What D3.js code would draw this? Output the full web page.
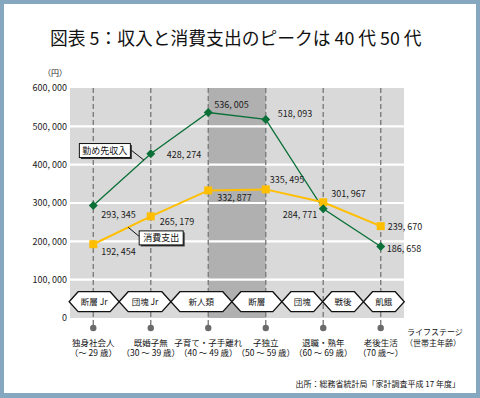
<!DOCTYPE html>
<html><head><meta charset="utf-8">
<script src="https://cdn.jsdelivr.net/npm/d3@7"></script>
<style>
html,body{margin:0;padding:0;background:#85a8c0;}
svg{display:block;font-family:"Noto Sans CJK JP","Noto Sans",sans-serif;}
</style></head>
<body>
<svg id="c" width="480" height="398"></svg>
<script>
// ---- data ----
const stages = ["独身社会人","既婚子無","子育て・子手離れ","子独立","退職・熟年","老後生活"];
const ages = ["（～ 29 歳）","（30 ～ 39 歳）","（40 ～ 49 歳）","（50 ～ 59 歳）","（60 ～ 69 歳）","（70 歳～）"];
const income = [293345, 428274, 536005, 518093, 284771, 186658];
const spending = [192454, 265179, 332877, 335495, 301967, 239670];
const yTicks = [0, 100000, 200000, 300000, 400000, 500000, 600000];
const generations = ["断層 Jr","団塊 Jr","新人類","断層","団塊","戦後","飢餓"];
// generation span boundaries in life-stage index units
const genBounds = [-0.42, 0.45, 1.35, 2.41, 3.28, 3.99, 4.70, 5.41];
const peakStages = [2, 3];

// ---- label layout (style) ----
const incomeOff = [[8,12,"start"],[16,4,"start"],[6,-5,"start"],[12,-2,"start"],[-6,9,"end"],[6,6,"start"]];
const spendOff = [[8,11,"start"],[9,9,"start"],[9,11,"start"],[4,-6,"start"],[8,-5,"start"],[7,4,"start"]];

const svg = d3.select("#c");
svg.append("rect").attr("x",4).attr("y",4).attr("width",472).attr("height",389).attr("fill","#fff");

const L = 70, R = 404, T = 88, B = 318;
const x = d3.scalePoint().domain(d3.range(stages.length)).range([L, R]).padding(0.405);
const xi = d3.scaleLinear().domain([0, stages.length-1]).range([x(0), x(stages.length-1)]);
const y = d3.scaleLinear().domain([0, 600000]).range([B, T]);

// title
svg.append("text").attr("x",50).attr("y",45).attr("font-size",17.8).attr("fill","#111")
  .text("図表 5：収入と消費支出のピークは 40 代 50 代");

// plot background
svg.append("rect").attr("x",L).attr("y",T).attr("width",R-L).attr("height",B-T).attr("fill","#d9d9d9");
svg.append("rect").attr("x",xi(peakStages[0])).attr("y",T)
  .attr("width",xi(peakStages[1])-xi(peakStages[0])).attr("height",B-T).attr("fill","#b0b0b0");

// gridlines
svg.append("g").selectAll("line").data(yTicks.filter(d=>d>0&&d<600000)).join("line")
  .attr("x1",L).attr("x2",R).attr("y1",d=>y(d)).attr("y2",d=>y(d))
  .attr("stroke","#fff").attr("stroke-width",2.2);

// y axis
const yAxis = d3.axisLeft(y).tickValues(yTicks).tickSize(0).tickPadding(0)
  .tickFormat(d=>d3.format(",")(d).replace(",",", "));
const ga = svg.append("g").attr("transform",`translate(${L-3},0)`).call(yAxis);
ga.select(".domain").remove();
ga.selectAll("text").attr("font-size",9).attr("fill","#222").attr("font-family","Noto Sans CJK JP");
svg.append("text").attr("x",67).attr("y",76).attr("text-anchor","end").attr("font-size",8).attr("fill","#222").text("（円）");

// dashed stage lines + dots
svg.append("g").selectAll("line").data(d3.range(stages.length)).join("line")
  .attr("x1",d=>x(d)).attr("x2",d=>x(d)).attr("y1",T).attr("y2",326)
  .attr("stroke","#7d7d7d").attr("stroke-width",1.4).attr("stroke-dasharray","5,3");
svg.append("g").selectAll("circle").data(d3.range(stages.length)).join("circle")
  .attr("cx",d=>x(d)).attr("cy",328).attr("r",3.2).attr("fill","#6a6a6a");

// generation hexagons
const hy = 301.7, hh = 10, hp = 9;
const gg = svg.append("g").selectAll("g").data(generations).join("g");
gg.append("path").attr("d",(d,i)=>{
  const a = xi(genBounds[i]), b = xi(genBounds[i+1]);
  return `M${a},${hy}L${a+hp},${hy-hh}L${b-hp},${hy-hh}L${b},${hy}L${b-hp},${hy+hh}L${a+hp},${hy+hh}Z`;
}).attr("fill","#fff").attr("stroke","#111").attr("stroke-width",1.3);
gg.append("text").attr("x",(d,i)=>(xi(genBounds[i])+xi(genBounds[i+1]))/2).attr("y",hy+3.3)
  .attr("text-anchor","middle").attr("font-size",8.5).attr("fill","#111").text(d=>d);

// lines
const line = d3.line().x((d,i)=>x(i)).y(d=>y(d));
svg.append("path").datum(income).attr("d",line).attr("fill","none").attr("stroke","#0a7038").attr("stroke-width",1.3);
svg.append("path").datum(spending).attr("d",line).attr("fill","none").attr("stroke","#ffbf00").attr("stroke-width",2);

// markers
svg.append("g").selectAll("path").data(spending).join("path")
  .attr("d",d3.symbol(d3.symbolSquare,64)).attr("transform",(d,i)=>`translate(${x(i)},${y(d)})`).attr("fill","#ffbf00");
svg.append("g").selectAll("path").data(income).join("path")
  .attr("d",d3.symbol(d3.symbolSquare,40)).attr("transform",(d,i)=>`translate(${x(i)},${y(d)}) rotate(45)`).attr("fill","#0a7038");

// value labels
const fmt = d=>d3.format(",")(d).replace(",",", ");
function labels(vals, offs){
  svg.append("g").selectAll("text").data(vals).join("text")
    .attr("x",(d,i)=>x(i)+offs[i][0]).attr("y",(d,i)=>y(d)+offs[i][1])
    .attr("text-anchor",(d,i)=>offs[i][2]).attr("font-size",9).attr("fill","#1a1a1a").text(fmt);
}
labels(income, incomeOff);
labels(spending, spendOff);

// callouts
function callout(vals, t, text, place){
  const ax = xi(t), ay = y(vals[0] + (vals[1]-vals[0])*t);
  const w = place.w, h = 14;
  const bx = place.side==="left" ? ax + place.dx - w : ax + place.dx;
  const by = ay + place.dy;
  const lx = place.side==="left" ? bx + w : bx;
  svg.append("line").attr("x1",ax).attr("y1",ay).attr("x2",lx).attr("y2",by+place.ly)
    .attr("stroke","#111").attr("stroke-width",1);
  svg.append("rect").attr("x",bx+1.5).attr("y",by+1.5).attr("width",w).attr("height",h).attr("fill","#333");
  svg.append("rect").attr("x",bx).attr("y",by).attr("width",w).attr("height",h).attr("fill","#fff").attr("stroke","#111").attr("stroke-width",1);
  svg.append("text").attr("x",bx+w/2).attr("y",by+10.3).attr("text-anchor","middle").attr("font-size",9).attr("fill","#111").text(text);
}
callout(income, 0.88, "勤め先収入", {side:"left", dx:-13.5, dy:-16.5, w:51, ly:6});
callout(spending, 0.607, "消費支出", {side:"right", dx:11, dy:3.6, w:44, ly:5.5});

// stage labels
const sl = svg.append("g").selectAll("g").data(stages).join("g");
sl.append("text").attr("x",(d,i)=>x(i)).attr("y",345.5).attr("text-anchor","middle").attr("font-size",8.5).attr("fill","#111").text(d=>d);
sl.append("text").attr("x",(d,i)=>x(i)).attr("y",356).attr("text-anchor","middle").attr("font-size",8.5).attr("fill","#111").text((d,i)=>ages[i]);
svg.append("text").attr("x",407).attr("y",335).attr("font-size",8).attr("fill","#111").text("ライフステージ");
svg.append("text").attr("x",405).attr("y",345.5).attr("font-size",8).attr("fill","#111").text("（世帯主年齢）");

// source
svg.append("text").attr("x",460).attr("y",387).attr("text-anchor","end").attr("font-size",8).attr("fill","#111")
  .text("出所：総務省統計局「家計調査平成 17 年度」");
</script>
</body></html>
